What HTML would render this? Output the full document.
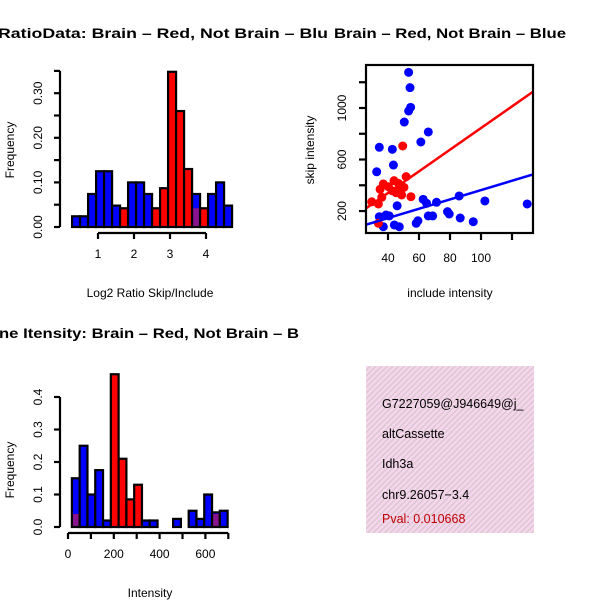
<!DOCTYPE html>
<html><head><meta charset="utf-8">
<style>
html,body{margin:0;padding:0;background:#fff;}
svg{display:block;font-family:"Liberation Sans",Arial,sans-serif;}
</style></head>
<body>
<svg id="c" width="600" height="600" viewBox="0 0 600 600" xmlns="http://www.w3.org/2000/svg">
<defs>
<pattern id="hatch" width="4" height="4" patternUnits="userSpaceOnUse" patternTransform="rotate(45)">
<rect width="4" height="4" fill="#f6d6ee"/>
<rect width="1.5" height="4" fill="#dcc8cf"/>
</pattern>
<clipPath id="scClip"><rect x="366" y="65" width="167" height="168"/></clipPath>
</defs>
<rect width="600" height="600" fill="#fff"/>
<g id="h1"></g>
<g id="sc"></g>
<g id="h2"></g>
<g>
<rect x="366" y="366" width="168" height="167" fill="url(#hatch)"/>
<text x="382" y="408" font-size="12.5">G7227059@J946649@j_</text>
<text x="382" y="438" font-size="12.5">altCassette</text>
<text x="382" y="468" font-size="12.5">Idh3a</text>
<text x="382" y="499" font-size="12.5">chr9.26057−3.4</text>
<text x="382" y="523" font-size="12.5" fill="#c00000">Pval: 0.010668</text>
</g>
</svg>
<script>
const NS="http://www.w3.org/2000/svg";
// Histogram 1 data
const h1Start=0.28, h1Width=0.2222;
const h1Blue=[0.024,0.024,0.074,0.125,0.125,0.048,0,0.1,0.1,0.074,0,0,0,0,0,0.074,0,0.074,0.1,0.048];
const h1Red=[0,0,0,0,0,0,0.042,0,0,0,0.042,0.087,0.348,0.26,0.13,0.042,0.042,0,0,0];
const h1XTicks=[1,2,3,4];
const h1YTicks=[0,0.05,0.1,0.15,0.2,0.25,0.3,0.35];
const h1YLabels=["0.00","0.10","0.20","0.30"];
// Histogram 2 data
const h2Start=17, h2Width=34;
const h2Blue=[0.15,0.25,0.10,0.175,0.02,0,0,0,0,0.02,0.02,0,0,0.025,0,0.05,0.025,0.1,0.045,0.05];
const h2Red=[0.04,0,0,0,0,0.47,0.21,0.085,0.13,0,0,0,0,0,0,0,0,0,0.04,0];
const h2XTicks=[0,100,200,300,400,500,600,700];
const h2XLabels=["0","200","400","600"];
const h2YTicks=[0,0.1,0.2,0.3,0.4];
const h2YLabels=["0.0","0.1","0.2","0.3","0.4"];
// Scatter data
const blueX=[53.3,54.2,54.6,53.3,50.5,66,61.2,34.4,42.8,43.5,32.7,62.7,45.9,64.9,71.3,85.9,102.5,129.8,78.4,79.5,86.6,95,59.3,58.2,66,68.8,34.4,38.7,37,44.1,47.3,40.8];
const blueY=[1277,1158,1005,977,891,814,736,695,679,557,505,291,241,260,268,317,278,255,195,177,146,117,125,105,162,162,156,169,78,92,78,162];
const redX=[49.5,29.5,33.8,36,34.9,37,40.3,43.9,46.7,51.7,47.8,45.2,48.8,54.8,42.6,50.3,33.8];
const redY=[705,272,255,307,369,410,389,436,415,467,363,342,325,311,358,384,105];
const redFit=[4.3,8.4];
const blueFit=[0.5,3.62];
const scXTicks=[40,60,80,100,120];
const scXLabels=["40","60","80","100"];
const scYTicks=[200,400,600,800,1000,1200];
const scYLabels=["200","600","1000"];

function el(parent,tag,attrs){const e=document.createElementNS(NS,tag);for(const k in attrs)e.setAttribute(k,attrs[k]);parent.appendChild(e);return e;}
function txt(parent,x,y,s,opts){const t=el(parent,"text",Object.assign({x:x,y:y,"font-size":12,"text-anchor":"middle"},opts||{}));t.textContent=s;return t;}

function hist(g,o){
  const sx=v=>o.x0+(v-o.xv0)*o.kx, sy=v=>o.y0-v*o.ky;
  for(let i=0;i<o.blue.length;i++){
    const a=o.start+i*o.w,b=a+o.w,bl=o.blue[i],rd=o.red[i];
    const x=sx(a),w=sx(b)-sx(a);
    const top=Math.max(bl,rd);
    if(top<=0)continue;
    if(bl>0){const r=el(g,"rect",{x:x,y:sy(bl),width:w,height:sy(0)-sy(bl),fill:"#0000ff"});
      
      }
    if(rd>0){const r=el(g,"rect",{x:x,y:sy(rd),width:w,height:sy(0)-sy(rd),fill:(bl>0?"#8a148f":"#ff0000")});
      
      }
    const ol=el(g,"rect",{x:x,y:sy(top),width:w,height:sy(0)-sy(top),fill:"none",stroke:"#000","stroke-width":2.2});
    
    
  }
  const yt=o.yTicks;
  el(g,"line",{x1:o.yAxisX,x2:o.yAxisX,y1:sy(yt[0]),y2:sy(yt[yt.length-1]),stroke:"#000","stroke-width":2.2});
  yt.forEach(v=>el(g,"line",{x1:o.yAxisX-6,x2:o.yAxisX,y1:sy(v),y2:sy(v),stroke:"#000","stroke-width":2.2}));
  o.yLabels.forEach(s=>{const v=parseFloat(s);const y=sy(v);
    const t=txt(g,o.yAxisX-22,y,s,{transform:`rotate(-90 ${o.yAxisX-22} ${y})`});
    t.setAttribute('dominant-baseline','central');
    
    });
  const xt=o.xTicks;
  el(g,"line",{x1:sx(xt[0]),x2:sx(xt[xt.length-1]),y1:o.xAxisY,y2:o.xAxisY,stroke:"#000","stroke-width":2.2});
  xt.forEach(v=>el(g,"line",{x1:sx(v),x2:sx(v),y1:o.xAxisY,y2:o.xAxisY+6,stroke:"#000","stroke-width":2.2}));
  o.xLabels.forEach(s=>{const t=txt(g,sx(parseFloat(s)),o.xAxisY+25,s);
    
    });
}

const g1=document.getElementById("h1");
hist(g1,{x0:98,xv0:1,kx:36,y0:227,ky:446,start:h1Start,w:h1Width,blue:h1Blue,red:h1Red,
  yTicks:h1YTicks,yLabels:h1YLabels,yAxisX:60,xTicks:h1XTicks,xLabels:h1XTicks.map(String),xAxisY:233});
let t;
t=txt(g1,-2,38,"RatioData: Brain – Red, Not Brain – Blu",{"text-anchor":"start","font-weight":"bold","font-size":14,textLength:330,lengthAdjust:"spacingAndGlyphs"});

t=txt(g1,150,297,"Log2 Ratio Skip/Include");

t=txt(g1,14,150,"Frequency",{transform:"rotate(-90 14 150)"});


const g2=document.getElementById("h2");
hist(g2,{x0:68,xv0:0,kx:0.229,y0:527,ky:325,start:h2Start,w:h2Width,blue:h2Blue,red:h2Red,
  yTicks:h2YTicks,yLabels:h2YLabels,yAxisX:60,xTicks:h2XTicks,xLabels:h2XLabels,xAxisY:533});
t=txt(g2,-1,338,"ne Itensity: Brain – Red, Not Brain – B",{"text-anchor":"start","font-weight":"bold","font-size":14,textLength:300,lengthAdjust:"spacingAndGlyphs"});

t=txt(g2,150,597,"Intensity");

t=txt(g2,14,470,"Frequency",{transform:"rotate(-90 14 470)"});


const gs=document.getElementById("sc");
const X=v=>326+v*1.55, Y=v=>236.8-v*0.1288;
const pts=el(gs,"g",{"clip-path":"url(#scClip)"});
blueX.forEach((x,i)=>{const c=el(pts,"circle",{cx:X(x),cy:Y(blueY[i]),r:4.5,fill:"#0000ff"});
  
  });
redX.forEach((x,i)=>{const c=el(pts,"circle",{cx:X(x),cy:Y(redY[i]),r:4.5,fill:"#ff0000"});
  
  });
[[redFit,"#ff0000","red-fit-line"],[blueFit,"#0000ff","blue-fit-line"]].forEach(([f,col,nm])=>{
  const x1=20,x2=140;
  const l=el(pts,"line",{x1:X(x1),y1:Y(f[0]+f[1]*x1),x2:X(x2),y2:Y(f[0]+f[1]*x2),stroke:col,"stroke-width":2.5});
  
  });
el(gs,"rect",{x:366,y:65,width:167,height:168,fill:"none",stroke:"#000","stroke-width":2.2});
scXTicks.forEach(v=>el(gs,"line",{x1:X(v),x2:X(v),y1:233,y2:240,stroke:"#000","stroke-width":2.2}));
scXLabels.forEach(s=>{const tt=txt(gs,X(+s),262,s);
  });
scYTicks.forEach(v=>el(gs,"line",{x1:359,x2:366,y1:Y(v),y2:Y(v),stroke:"#000","stroke-width":2.2}));
scYLabels.forEach(s=>{const y=Y(+s);const tt=txt(gs,342,y,s,{transform:`rotate(-90 342 ${y})`,"dominant-baseline":"central"});
  });
t=txt(gs,334,38,"Brain – Red, Not Brain – Blue",{"text-anchor":"start","font-weight":"bold","font-size":14,textLength:232,lengthAdjust:"spacingAndGlyphs"});

t=txt(gs,450,297,"include intensity");

t=txt(gs,314,150,"skip intensity",{transform:"rotate(-90 314 150)"});

</script>
</body></html>
